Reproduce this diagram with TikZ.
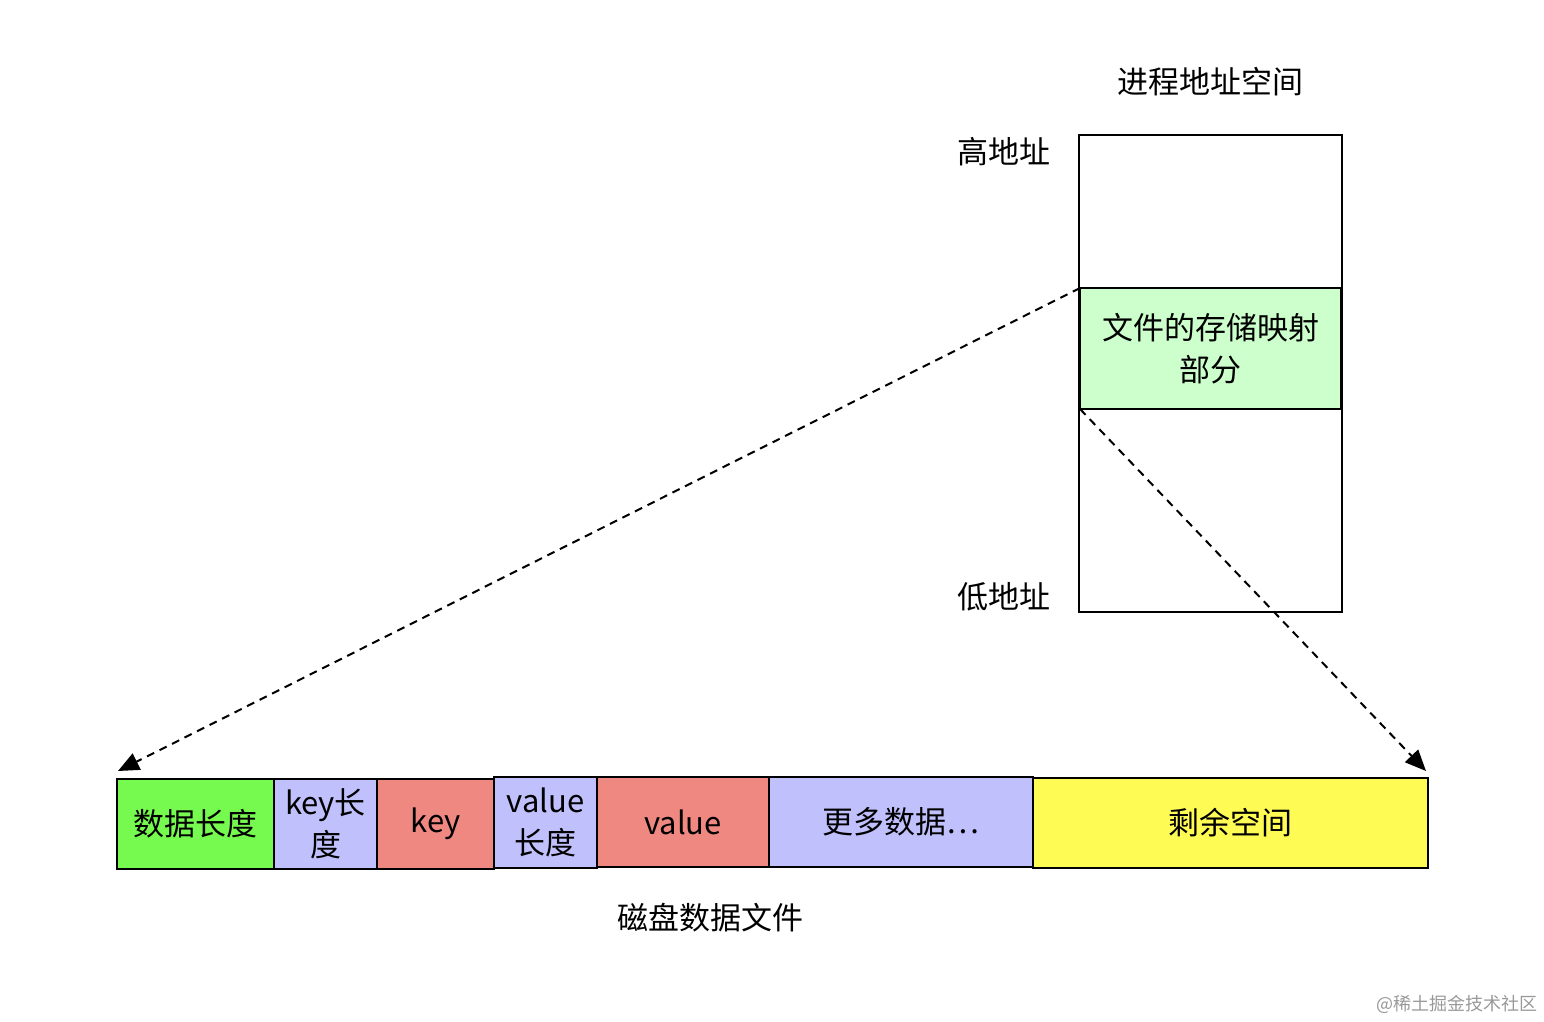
\documentclass[tikz,border=0pt]{standalone}
\usepackage{fontspec}
\setmainfont{Noto Sans CJK SC}
\usetikzlibrary{arrows.meta,calc}
\definecolor{cgreen}{RGB}{118,250,79}
\definecolor{clav}{RGB}{192,192,252}
\definecolor{csalmon}{RGB}{240,136,130}
\definecolor{cyellow}{RGB}{255,251,85}
\definecolor{clight}{RGB}{204,255,204}
\tikzset{
  cell/.style={draw=black, line width=1pt, anchor=north west, inner sep=0pt, outer sep=0pt,
    align=center, font=\fontsize{15.5}{21}\selectfont, text=black},
  lbl/.style={font=\fontsize{15.5}{21}\selectfont, inner sep=0pt, text=black},
  maparrow/.style={draw=black, line width=1pt, dash pattern=on 4pt off 3pt,
    -{Triangle[length=10.5pt,width=9pt]}}
}
\begin{document}
\begin{tikzpicture}[x=0.5pt,y=-0.5pt]
\useasboundingbox (0,0) rectangle (1544,1022);
% address space
\node[cell, minimum width=131.5pt, minimum height=238.5pt] (addr) at (1079,135) {};
\node[cell, fill=clight, minimum width=130.5pt, minimum height=60.5pt] (map) at (1080,288) {文件的存储映射\\部分};
\node[lbl] (title) at (1210,82) {进程地址空间};
\node[lbl, anchor=east] (high) at (1051,152) {高地址};
\node[lbl, anchor=east] (low) at (1051,597) {低地址};
% disk file
\node[cell, fill=cgreen, minimum width=78.5pt, minimum height=45pt] (b1) at (117,779) {数据长度};
\node[cell, fill=clav, minimum width=51.5pt, minimum height=45pt] (b2) at (274,779) {key长\\度};
\node[cell, fill=csalmon, minimum width=58.5pt, minimum height=45pt] (b3) at (377,779) {key};
\node[cell, fill=clav, minimum width=51.5pt, minimum height=45.5pt] (b4) at (494,777) {value\\长度};
\node[cell, fill=csalmon, minimum width=86pt, minimum height=45pt] (b5) at (597,777) {value};
\node[cell, fill=clav, minimum width=132pt, minimum height=45pt] (b6) at (769,777) {更多数据…};
\node[cell, fill=cyellow, minimum width=197.5pt, minimum height=45pt] (b7) at (1033,778) {剩余空间};
\node[lbl] (disk) at (710,918) {磁盘数据文件};
% arrows
\coordinate (e1) at (118,771);
\coordinate (e2) at (1426,771);
\draw[maparrow] (map.north west) -- (e1);
\draw[maparrow] (map.south west) -- (e2);
% watermark
\node[inner sep=0pt, text=black!40, font=\fontsize{9}{10}\selectfont] (wm) at (1457,1004) {@稀土掘金技术社区};
\end{tikzpicture}
\end{document}
